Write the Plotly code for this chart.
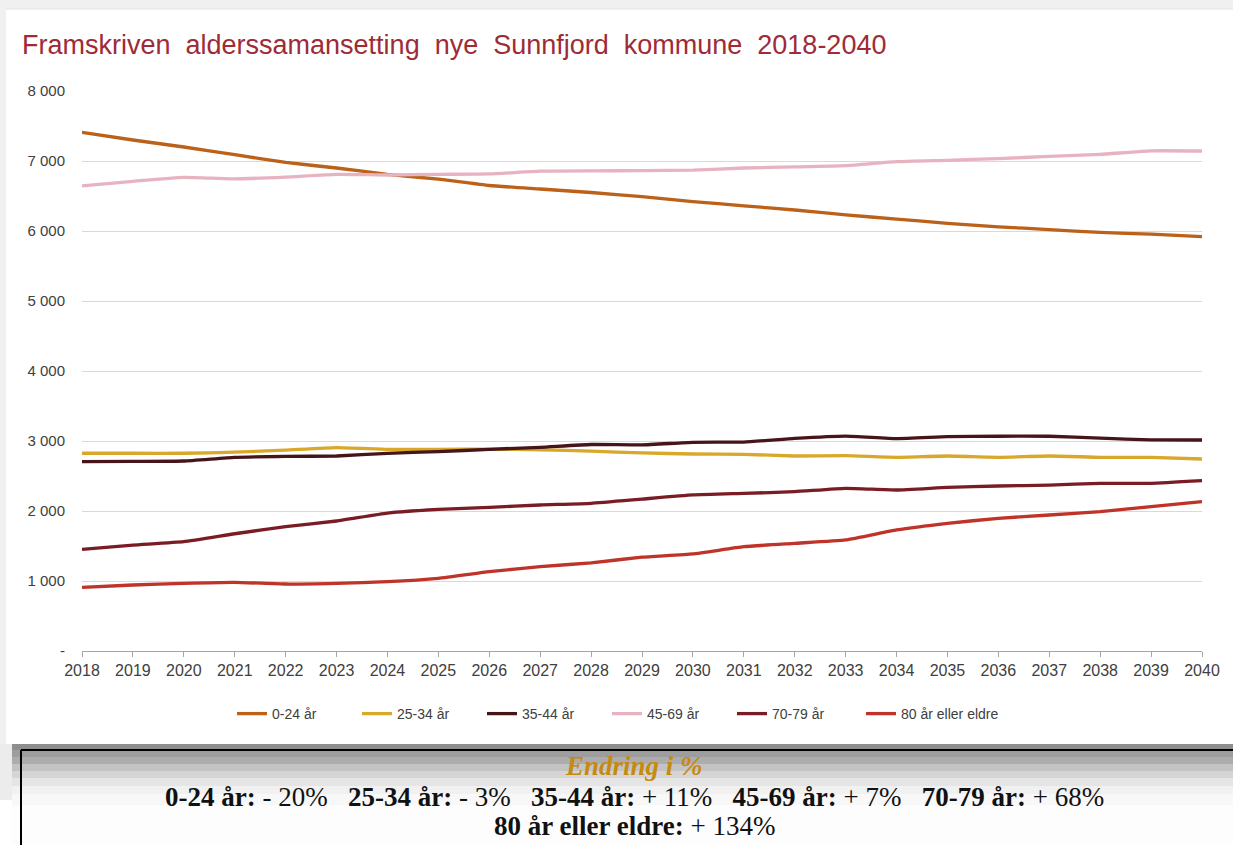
import plotly.graph_objects as go

# ---------------- data ----------------
years = list(range(2018, 2041))

age_0_24 = [7410, 7300, 7200, 7090, 6980, 6900, 6810, 6740, 6650, 6600, 6550, 6490,
            6420, 6360, 6300, 6230, 6170, 6110, 6060, 6020, 5980, 5955, 5920]
age_25_34 = [2825, 2825, 2825, 2840, 2870, 2905, 2880, 2880, 2885, 2875, 2855, 2830,
             2814, 2810, 2786, 2790, 2767, 2786, 2767, 2786, 2767, 2765, 2743]
age_35_44 = [2705, 2710, 2714, 2767, 2780, 2786, 2824, 2848, 2881, 2910, 2950, 2945,
             2981, 2985, 3038, 3071, 3035, 3062, 3068, 3068, 3040, 3016, 3014]
age_45_69 = [6645, 6710, 6767, 6745, 6771, 6810, 6800, 6810, 6815, 6855, 6860, 6862,
             6871, 6900, 6915, 6933, 6990, 7010, 7035, 7065, 7095, 7145, 7143]
age_70_79 = [1452, 1514, 1562, 1675, 1776, 1857, 1970, 2024, 2052, 2086, 2110, 2170,
             2229, 2252, 2276, 2324, 2300, 2338, 2357, 2371, 2395, 2395, 2433]
age_80 = [910, 943, 967, 981, 957, 967, 990, 1038, 1133, 1205, 1260, 1340,
          1386, 1490, 1538, 1586, 1729, 1824, 1895, 1943, 1990, 2062, 2133]

series_names = ["0-24 år", "25-34 år", "35-44 år", "45-69 år", "70-79 år", "80 år eller eldre"]
series_values = [age_0_24, age_25_34, age_35_44, age_45_69, age_70_79, age_80]
series_colors = ["#bb6119", "#d9a82a", "#451519", "#e7b3c0", "#7a1c24", "#bf3328"]

y_tickvals = [0, 1000, 2000, 3000, 4000, 5000, 6000, 7000, 8000]
y_ticktext = ["-", "1 000", "2 000", "3 000", "4 000", "5 000", "6 000", "7 000", "8 000"]

change_labels = ["0-24 år:", "25-34 år:", "35-44 år:", "45-69 år:", "70-79 år:", "80 år eller eldre:"]
change_values = ["- 20%", "- 3%", "+ 11%", "+ 7%", "+ 68%", "+ 134%"]

title_text = "Framskriven  alderssamansetting  nye  Sunnfjord  kommune  2018-2040"

# ---------------- layout geometry ----------------
W, H = 1233, 845
L, R, T, B = 82, 31, 91, 194
PW, PH = W - L - R, H - T - B


def px(x):
    return (x - L) / PW


def py(y):
    return (H - B - y) / PH


SANS = "Liberation Sans, Arial, sans-serif"
SERIF = "Liberation Serif, Times New Roman, serif"

fig = go.Figure()
for i, (name, vals, col) in enumerate(zip(series_names, series_values, series_colors)):
    fig.add_trace(go.Scatter(x=years, y=vals, name=name, mode="lines",
                             legend="legend2" if i == len(series_names) - 1 else "legend",
                             line=dict(color=col, width=3.3, shape="spline", smoothing=0.4)))

shapes = []
# outer grey frame
shapes.append(dict(type="rect", xref="paper", yref="paper", x0=px(0), x1=px(W), y0=py(0), y1=py(9),
                   fillcolor="#f0f0f0", line_width=0, layer="below"))
shapes.append(dict(type="line", xref="paper", yref="paper", x0=px(6), x1=px(W), y0=py(9), y1=py(9),
                   line=dict(color="#e3e3e3", width=1), layer="below"))
shapes.append(dict(type="rect", xref="paper", yref="paper", x0=px(0), x1=px(6), y0=py(0), y1=py(744),
                   fillcolor="#f0f0f0", line_width=0, layer="below"))
# shadow gradient bands above the summary box
bands = [(744, 750, "#8e8e8e"), (750, 757, "#9d9d9d"), (757, 764, "#acacac"), (764, 771, "#c3c3c3"),
         (771, 778, "#d5d5d5"), (778, 786, "#e5e5e5"), (786, 794, "#f1f1f1"), (794, 805, "#f8f8f8"),
         (805, 845, "#fdfdfd")]
for y0, y1, c in bands:
    shapes.append(dict(type="rect", xref="paper", yref="paper", x0=px(12), x1=px(W), y0=py(y1), y1=py(y0),
                       fillcolor=c, line_width=0, layer="below"))
shapes.append(dict(type="rect", xref="paper", yref="paper", x0=px(0), x1=px(12), y0=py(800), y1=py(744),
                   fillcolor="#ececec", line_width=0, layer="below"))
# box border
shapes.append(dict(type="line", xref="paper", yref="paper", x0=px(21), x1=px(W + 5), y0=py(750), y1=py(750),
                   line=dict(color="#000000", width=2)))
shapes.append(dict(type="line", xref="paper", yref="paper", x0=px(21), x1=px(21), y0=py(750), y1=py(H + 5),
                   line=dict(color="#000000", width=2)))

NB = "\u00a0"
gap = NB * 2 + " "
line2 = gap.join(f"<b>{lab}</b> {val}" for lab, val in zip(change_labels[:5], change_values[:5]))
line3 = f"<b>{change_labels[5]}</b> {change_values[5]}"

annotations = [
    dict(text=title_text.replace("  ", " " + NB), xref="paper", yref="paper", x=px(20), y=py(45),
         xanchor="left", yanchor="middle", showarrow=False,
         font=dict(family=SANS, size=27, color="#9e2b36")),
    dict(text="<b><i>Endring i %</i></b>", xref="paper", yref="paper", x=px(634), y=py(766),
         xanchor="center", yanchor="middle", showarrow=False,
         font=dict(family=SERIF, size=27, color="#c58a10")),
    dict(text=line2, xref="paper", yref="paper", x=px(634), y=py(797),
         xanchor="center", yanchor="middle", showarrow=False,
         font=dict(family=SERIF, size=27, color="#111111")),
    dict(text=line3, xref="paper", yref="paper", x=px(634), y=py(826),
         xanchor="center", yanchor="middle", showarrow=False,
         font=dict(family=SERIF, size=27, color="#111111")),
]

legend_font = dict(family=SANS, size=14, color="#404040")
fig.update_layout(
    width=W, height=H,
    margin=dict(l=L, r=R, t=T, b=B, autoexpand=False),
    paper_bgcolor="#ffffff", plot_bgcolor="#ffffff",
    shapes=shapes, annotations=annotations,
    showlegend=True,
    legend=dict(orientation="h", x=px(232), y=py(714), xanchor="left", yanchor="middle",
                font=legend_font, entrywidth=80, entrywidthmode="pixels", bgcolor="rgba(0,0,0,0)"),
    legend2=dict(orientation="h", x=px(861), y=py(714), xanchor="left", yanchor="middle",
                 font=legend_font, bgcolor="rgba(0,0,0,0)"),
    xaxis=dict(range=[2018, 2040], tickmode="array", tickvals=years, ticktext=[str(y) for y in years],
               showgrid=False, zeroline=False, showline=True, linecolor="#a6a6a6", linewidth=1,
               ticks="outside", ticklen=5, tickcolor="#a6a6a6",
               tickfont=dict(family=SANS, size=16, color="#404040")),
    yaxis=dict(range=[0, 8000], tickmode="array", tickvals=y_tickvals, ticktext=y_ticktext,
               showgrid=True, gridcolor="#d9d9d9", gridwidth=1, zeroline=False, showline=False,
               ticks="", ticklabelstandoff=16,
               tickfont=dict(family=SANS, size=15, color="#404040")),
)

fig.write_html("out.html", config={"displayModeBar": False},
               post_script="document.body.style.margin='0';document.body.style.overflow='hidden';")
